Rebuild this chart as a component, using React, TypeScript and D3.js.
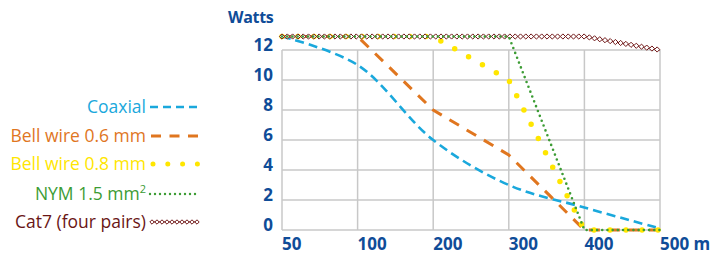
import { useEffect, useRef } from 'react';
import * as d3 from 'd3';

// distances along the x axis (metres)
const distances = ['50', '100', '200', '300', '400', '500'];
const yTicks = [0, 2, 4, 6, 8, 10, 12];

const coaxial = [12.9, 11, 6, 3, 1.5, 0.1];
const bellWire06 = [12.9, 12.9, 8, 5, 0, 0];
const bellWire08 = [12.9, 12.9, 12.9, 10, 0, 0];
const nym15 = [12.9, 12.9, 12.9, 12.9, 0, 0];
const cat7 = [12.9, 12.9, 12.9, 12.9, 12.9, 12.0];

const seriesNames = ['Coaxial', 'Bell wire 0.6 mm', 'Bell wire 0.8 mm', 'NYM 1.5 mm²', 'Cat7 (four pairs)'];

export default function App() {
  const ref = useRef<SVGSVGElement>(null);

  useEffect(() => {
    if (!ref.current) return;
    const svg = d3.select(ref.current);
    svg.selectAll('*').remove();

    const left = 282;
    const right = 660;
    const top = 50;
    const bottom = 230;

    const x = d3.scalePoint<string>().domain(distances).range([left, right]);
    const y = d3.scaleLinear().domain([0, 12]).range([bottom, top]);

    const axisBlue = '#0f4c98';
    const gridColor = '#c8c8c8';

    // grid
    const grid = svg.append('g');
    yTicks.forEach((t) => {
      grid.append('line')
        .attr('x1', left).attr('x2', right)
        .attr('y1', y(t)).attr('y2', y(t))
        .attr('stroke', gridColor).attr('stroke-width', 1.5);
    });
    distances.forEach((d) => {
      grid.append('line')
        .attr('x1', x(d)!).attr('x2', x(d)!)
        .attr('y1', top).attr('y2', bottom)
        .attr('stroke', gridColor).attr('stroke-width', 1.5);
    });

    // y tick labels
    yTicks.forEach((t) => {
      svg.append('text')
        .attr('x', 273).attr('y', y(t) + 0.5)
        .attr('text-anchor', 'end')
        .attr('font-family', 'Open Sans').attr('font-weight', 700).attr('font-size', 17)
        .attr('fill', axisBlue)
        .text(t);
    });
    svg.append('text')
      .attr('x', 228).attr('y', 23)
      .attr('font-family', 'Open Sans').attr('font-weight', 700).attr('font-size', 16)
      .attr('letter-spacing', -0.3)
      .attr('fill', axisBlue)
      .text('Watts');

    // x tick labels
    distances.forEach((d, i) => {
      svg.append('text')
        .attr('x', x(d)!).attr('y', 250)
        .attr('font-family', 'Open Sans').attr('font-weight', 700).attr('font-size', 17)
        .attr('fill', axisBlue)
        .text(i === distances.length - 1 ? `${d} m` : d);
    });

    const linear = d3.line<number>().x((_, i) => x(distances[i])!).y((v) => y(v));
    const smooth = d3.line<number>().x((_, i) => x(distances[i])!).y((v) => y(v)).curve(d3.curveCatmullRom.alpha(0.5));

    const styles = [
      { data: coaxial, color: '#1aa8dc', width: 2.6, dash: '9 5', cap: 'butt', gen: smooth },
      { data: bellWire06, color: '#e0761f', width: 3, dash: '11 9', cap: 'butt', gen: linear },
      { data: bellWire08, color: '#ffe600', width: 5.5, dash: '0 16', cap: 'round', gen: linear },
    ];

    styles.forEach((s) => {
      svg.append('path')
        .attr('d', s.gen(s.data))
        .attr('fill', 'none')
        .attr('stroke', s.color)
        .attr('stroke-width', s.width)
        .attr('stroke-dasharray', s.dash)
        .attr('stroke-linecap', s.cap);
    });

    const cat7Color = '#701818';
    const diamonds = (pathNode: SVGPathElement, size: number, step: number) => {
      const len = pathNode.getTotalLength();
      const g = svg.append('g');
      for (let l = 0; l <= len + 0.01; l += step) {
        const p = pathNode.getPointAtLength(Math.min(l, len));
        g.append('path')
          .attr('d', `M0,${-size}L${size},0L0,${size}L${-size},0Z`)
          .attr('transform', `translate(${p.x},${p.y})`)
          .attr('fill', 'white')
          .attr('stroke', cat7Color)
          .attr('stroke-width', 1);
      }
    };

    const cat7Path = svg.append('path')
      .attr('d', linear(cat7))
      .attr('fill', 'none')
      .attr('stroke', cat7Color)
      .attr('stroke-width', 1.2);
    diamonds(cat7Path.node() as SVGPathElement, 2.6, 5.3);

    svg.append('path')
      .attr('d', linear(nym15))
      .attr('fill', 'none')
      .attr('stroke', '#3c9c34')
      .attr('stroke-width', 2.6)
      .attr('stroke-dasharray', '0 5.2')
      .attr('stroke-linecap', 'round');

    // legend
    const legendColors = ['#1aa8dc', '#e0761f', '#ffe600', '#3c9c34', cat7Color];
    const legendTextColors = ['#1aa8dc', '#e0761f', '#ffe600', '#3c9c34', '#6a1616'];
    const baselines = [113, 142, 170, 200, 228];
    seriesNames.forEach((name, i) => {
      const by = baselines[i];
      const t = svg.append('text')
        .attr('x', 146).attr('y', by)
        .attr('text-anchor', 'end')
        .attr('font-family', 'Open Sans').attr('font-size', 17.5)
        .attr('fill', legendTextColors[i]);
      if (name.endsWith('²')) {
        t.append('tspan').text(name.slice(0, -1));
        t.append('tspan').attr('font-size', 11).attr('dy', -7).text('2');
      } else {
        t.text(name);
      }
      const sy = by - 6;
      const sample = svg.append('path')
        .attr('d', `M150,${sy}L198,${sy}`)
        .attr('fill', 'none')
        .attr('stroke', legendColors[i]);
      if (i === 0) sample.attr('stroke-width', 2.6).attr('stroke-dasharray', '8 5');
      if (i === 1) sample.attr('d', `M151,${sy}L198,${sy}`).attr('stroke-width', 3).attr('stroke-dasharray', '10 8.5');
      if (i === 2) sample.attr('d', `M153,${sy}L198,${sy}`).attr('stroke-width', 5).attr('stroke-dasharray', '0 14.8').attr('stroke-linecap', 'round');
      if (i === 3) sample.attr('stroke-width', 2.4).attr('stroke-dasharray', '0 5').attr('stroke-linecap', 'round');
      if (i === 4) {
        sample.attr('d', `M152,${sy}L198,${sy}`).attr('stroke-width', 1);
        diamonds(sample.node() as SVGPathElement, 2.2, 5);
      }
    });
  }, []);

  return (
    <svg
      ref={ref}
      width={714}
      height={255}
      style={{ position: 'absolute', left: 0, top: 0, background: 'white' }}
    />
  );
}
